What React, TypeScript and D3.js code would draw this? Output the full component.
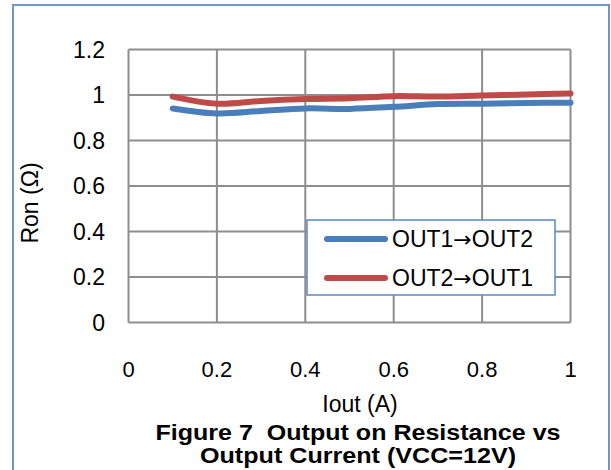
import React from "react";
import * as d3 from "d3";

const iout = [0.1, 0.2, 0.3, 0.4, 0.5, 0.6, 0.7, 0.8, 0.9, 1.0];
const out1to2 = [0.941, 0.919, 0.93, 0.941, 0.939, 0.948, 0.96, 0.962, 0.965, 0.966];
const out2to1 = [0.993, 0.962, 0.974, 0.982, 0.986, 0.995, 0.993, 0.998, 1.002, 1.007];
const xTicks = [0, 0.2, 0.4, 0.6, 0.8, 1];
const yTicks = [0, 0.2, 0.4, 0.6, 0.8, 1, 1.2];
const seriesFrom = ["OUT1", "OUT2"];
const seriesTo = ["OUT2", "OUT1"];
const seriesColors = ["#4a7ebb", "#be4b48"];

export default function App() {
  const W = 611, H = 470;
  const left = 128.5, right = 570.5, top = 49.5, bottom = 322.5;
  const x = d3.scaleLinear().domain([0, 1]).range([left, right]);
  const y = d3.scaleLinear().domain([0, 1.2]).range([bottom, top]);
  const line = d3
    .line<number>()
    .x((_, i) => x(iout[i]))
    .y((d) => y(d))
    .curve(d3.curveCatmullRom.alpha(0.5));
  const series = [out1to2, out2to1];
  const font = "'Liberation Sans', Arial, sans-serif";
  const fmt = (v: number) => (v === 0 || v === 1 ? String(v) : v.toFixed(1));
  return (
    <svg width={W} height={H} style={{ position: "absolute", left: 0, top: 0 }} fontFamily={font}>
      <rect x={0} y={0} width={W} height={H} fill="#fff" />
      <rect x={13} y={5} width={596} height={480} fill="none" stroke="#6f95cc" strokeWidth={2} />
      {yTicks.map((t) => (
        <line key={"gy" + t} x1={left} x2={right} y1={y(t)} y2={y(t)} stroke="#8e8e8e" strokeWidth={2} />
      ))}
      {xTicks.map((t) => (
        <line key={"gx" + t} x1={x(t)} x2={x(t)} y1={top} y2={bottom} stroke="#8e8e8e" strokeWidth={2} />
      ))}
      {yTicks.map((t) => (
        <text key={"ly" + t} x={105} y={y(t)} dy="0.36em" textAnchor="end" fontSize={23} fill="#000">
          {fmt(t)}
        </text>
      ))}
      {xTicks.map((t) => (
        <text key={"lx" + t} x={x(t)} y={377} textAnchor="middle" fontSize={22} fill="#000">
          {fmt(t)}
        </text>
      ))}
      {series.map((s, i) => (
        <path key={"s" + i} d={line(s) || ""} fill="none" stroke={seriesColors[i]} strokeWidth={6} strokeLinecap="round" />
      ))}
      <rect x={307} y={220} width={248} height={75} fill="#fff" stroke="#5b88c4" strokeWidth={1.5} />
      {seriesFrom.map((n, i) => (
        <g key={"lg" + i}>
          <line x1={327} x2={385} y1={239 + i * 39} y2={239 + i * 39} stroke={seriesColors[i]} strokeWidth={6} strokeLinecap="round" />
          <text x={392} y={239 + i * 39} dy="0.36em" fontSize={23} fill="#000">
            {n}
            <tspan fontFamily="'DejaVu Sans', sans-serif" fontSize={22}>{"\u2192"}</tspan>
            {seriesTo[i]}
          </text>
        </g>
      ))}
      <text x={360} y={412} textAnchor="middle" fontSize={23} fill="#000">
        Iout (A)
      </text>
      <text transform="translate(38,203) rotate(-90)" textAnchor="middle" fontSize={23} fill="#000">
        Ron (Ω)
      </text>
      <text x={358} y={440} textAnchor="middle" fontSize={22.5} fontWeight="bold" fill="#000"
        style={{ whiteSpace: "pre" }} textLength={405} lengthAdjust="spacingAndGlyphs">
        {"Figure 7  Output on Resistance vs"}
      </text>
      <text x={358} y={463} textAnchor="middle" fontSize={22.5} fontWeight="bold" fill="#000"
        textLength={316} lengthAdjust="spacingAndGlyphs">
        Output Current (VCC=12V)
      </text>
    </svg>
  );
}
